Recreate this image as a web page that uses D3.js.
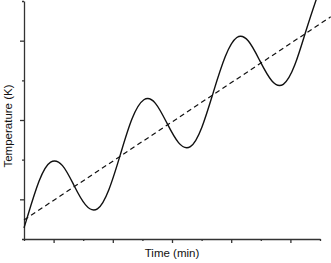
<!DOCTYPE html>
<html>
<head>
  <meta charset="UTF-8">
  <style>
    body { margin: 0; background-color: white; }
    svg { display: block; }
    text { font-family: "Liberation Sans", Arial, sans-serif; fill: #111; }
  </style>
</head>
<body>
<svg></svg>
<script src="https://d3js.org/d3.v7.min.js"></script>
<script>

let width = 331, height = 263;

let timeValues = [0, 0.12, 0.51, 0.90, 1.30, 1.69, 2.08, 2.48, 2.87, 3.26, 3.65, 4.05, 4.44, 4.83,
                  5.22, 5.62, 6.01, 6.40, 6.80, 7.19, 7.58, 7.97, 8.37, 8.76, 9.15, 9.54, 9.87];
let tempValues = [0.28, 0.57, 1.46, 1.94, 1.85, 1.35, 0.86, 0.76, 1.25, 2.14, 3.03, 3.51, 3.42, 2.92,
                  2.43, 2.33, 2.82, 3.71, 4.60, 5.08, 4.99, 4.49, 3.99, 3.90, 4.39, 5.28, 6.03];

// dashed linear trend
let trendTime = [0, 10.36];
let trendTemp = [0.48, 5.60];

// axis ticks
let xTicks = [0, 1, 2, 3, 4, 5, 6, 7, 8, 9, 10];
let yTicks = [0, 1, 2, 3, 4, 5, 6];

let svg = d3.select("svg")
    .attr("width", width)
    .attr("height", height);

let x = d3.scaleLinear().domain([0, 10]).range([24, 320]);
let y = d3.scaleLinear().domain([0, 6]).range([239, 1]);

// axes, long ticks on odd values
let xAxis = d3.axisBottom(x)
    .tickValues(xTicks)
    .tickSize(0)
    .tickFormat("");

let gx = svg.append("g")
    .attr("transform", "translate(0," + y(0) + ")")
    .call(xAxis);
gx.selectAll(".tick line")
    .attr("y2", d => d % 2 ? 4 : 2);

let yAxis = d3.axisLeft(y)
    .tickValues(yTicks)
    .tickSize(0)
    .tickFormat("");

let gy = svg.append("g")
    .attr("transform", "translate(" + x(0) + ",0)")
    .call(yAxis);
gy.selectAll(".tick line")
    .attr("x2", d => d % 2 ? -4 : -2);

svg.selectAll(".domain, .tick line")
    .attr("stroke", "#333")
    .attr("stroke-width", 1.3);

// lines
let curve = timeValues.map((t, i) => [t, tempValues[i]]);
let trend = trendTime.map((t, i) => [t, trendTemp[i]]);

let line = d3.line()
    .x(d => x(d[0]))
    .y(d => y(d[1]));

svg.append("path")
    .datum(trend)
    .attr("d", line)
    .attr("fill", "none")
    .attr("stroke", "#111")
    .attr("stroke-width", 1.2)
    .attr("stroke-dasharray", "5,3.5");

svg.append("path")
    .datum(curve)
    .attr("d", line.curve(d3.curveNatural))
    .attr("fill", "none")
    .attr("stroke", "#111")
    .attr("stroke-width", 1.4);

// labels
svg.append("text")
    .attr("x", 172)
    .attr("y", 257)
    .attr("text-anchor", "middle")
    .style("font-size", "11.5px")
    .text("Time (min)");

svg.append("text")
    .attr("transform", "translate(11.5,126) rotate(-90)")
    .attr("text-anchor", "middle")
    .style("font-size", "11.5px")
    .text("Temperature (K)");

</script>
</body>
</html>
